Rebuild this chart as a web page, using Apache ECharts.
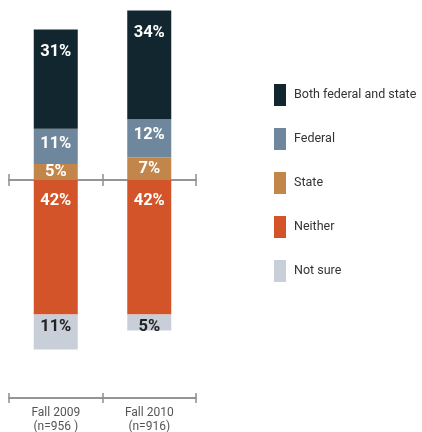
<!DOCTYPE html>
<html>
<head>
<meta charset="utf-8">
<style>
  html, body { margin: 0; padding: 0; background: #ffffff; }
  #chart { width: 422px; height: 432px; }
</style>
<script src="https://cdn.jsdelivr.net/npm/echarts@6/dist/echarts.min.js"></script>
</head>
<body>
<div id="chart"></div>
<script>
// Survey periods and their sample sizes
const periods = ['Fall 2009', 'Fall 2010'];
const sampleSizes = ['(n=956 )', '(n=916)'];

// Shares of respondents (%), stacked above the baseline
const stateVals = [5, 7];
const federalVals = [11, 12];
const bothVals = [31, 34];
// Stacked below the baseline
const neitherVals = [42, 42];
const notSureVals = [11, 5];

const legendOrder = ['Both federal and state', 'Federal', 'State', 'Neither', 'Not sure'];

const FONT = 'Roboto, "Liberation Sans", sans-serif';
const AXIS_GREY = '#8e8e8e';
const Y_MIN = -65;
const Y_MAX = 55;

function barLabel(color, position, distance) {
  return {
    show: true,
    position: position,
    distance: distance,
    color: color,
    fontFamily: FONT,
    fontWeight: 'bold',
    fontSize: 16.5,
    formatter: p => Math.abs(p.value) + '%'
  };
}

function makeSeries(name, values, sign, color, label) {
  return {
    name: name,
    type: 'bar',
    stack: 'share',
    xAxisIndex: 0,
    yAxisIndex: 0,
    barWidth: 44,
    itemStyle: { color: color },
    label: label,
    emphasis: { disabled: true },
    data: values.map(v => sign * v)
  };
}

// Baseline axis at zero; ticks go down from one copy and up from the other
function zeroAxis(gridIndex, position) {
  return {
    type: 'category',
    data: periods,
    gridIndex: gridIndex,
    position: position,
    axisLine: { onZero: true, lineStyle: { color: AXIS_GREY, width: 1.5 } },
    axisTick: { show: true, length: 6, lineStyle: { color: AXIS_GREY, width: 1.5 } },
    axisLabel: { show: false },
    splitLine: { show: false }
  };
}

// Category axis under the bars, ticks both ways around the line
function footAxis(position, withLabels) {
  return {
    type: 'category',
    data: periods,
    gridIndex: 2,
    position: position,
    axisLine: { onZero: false, lineStyle: { color: AXIS_GREY, width: 1.5 } },
    axisTick: { show: true, length: 5, lineStyle: { color: AXIS_GREY, width: 1.5 } },
    axisLabel: withLabels ? {
      show: true,
      margin: 8,
      fontFamily: FONT,
      fontSize: 12,
      lineHeight: 14,
      color: '#555555',
      formatter: (value, idx) => value + '\n' + sampleSizes[idx]
    } : { show: false }
  };
}

const chart = echarts.init(document.getElementById('chart'), null, { renderer: 'canvas' });

const option = {
  animation: false,
  backgroundColor: '#ffffff',
  grid: [
    { left: 9, width: 187, top: 4, height: 384 },
    { left: 9, width: 187, top: 4, height: 384 },
    { left: 9, width: 187, top: 398, height: 0 }
  ],
  legend: {
    data: legendOrder,
    orient: 'vertical',
    left: 269,
    top: 79,
    itemWidth: 12,
    itemHeight: 22,
    itemGap: 22,
    icon: 'rect',
    selectedMode: false,
    textStyle: {
      fontFamily: FONT,
      fontSize: 12.5,
      color: '#333333',
      padding: [0, 0, 0, 3]
    }
  },
  xAxis: [
    zeroAxis(0, 'bottom'),
    zeroAxis(1, 'top'),
    footAxis('bottom', true),
    footAxis('top', false)
  ],
  yAxis: [
    { type: 'value', gridIndex: 0, min: Y_MIN, max: Y_MAX, show: false },
    { type: 'value', gridIndex: 1, min: Y_MIN, max: Y_MAX, show: false },
    { type: 'value', gridIndex: 2, min: 0, max: 1, show: false }
  ],
  series: [
    makeSeries('State', stateVals, 1, '#c2854a', barLabel('#ffffff', 'inside', 0)),
    makeSeries('Federal', federalVals, 1, '#6f879d', barLabel('#ffffff', 'insideTop', 7)),
    makeSeries('Both federal and state', bothVals, 1, '#122630', barLabel('#ffffff', 'insideTop', 14)),
    makeSeries('Neither', neitherVals, -1, '#d35428', barLabel('#ffffff', 'insideTop', 12)),
    makeSeries('Not sure', notSureVals, -1, '#c8cfd9', barLabel('#222222', 'insideTop', 4))
  ]
};

chart.setOption(option);
</script>
</body>
</html>
